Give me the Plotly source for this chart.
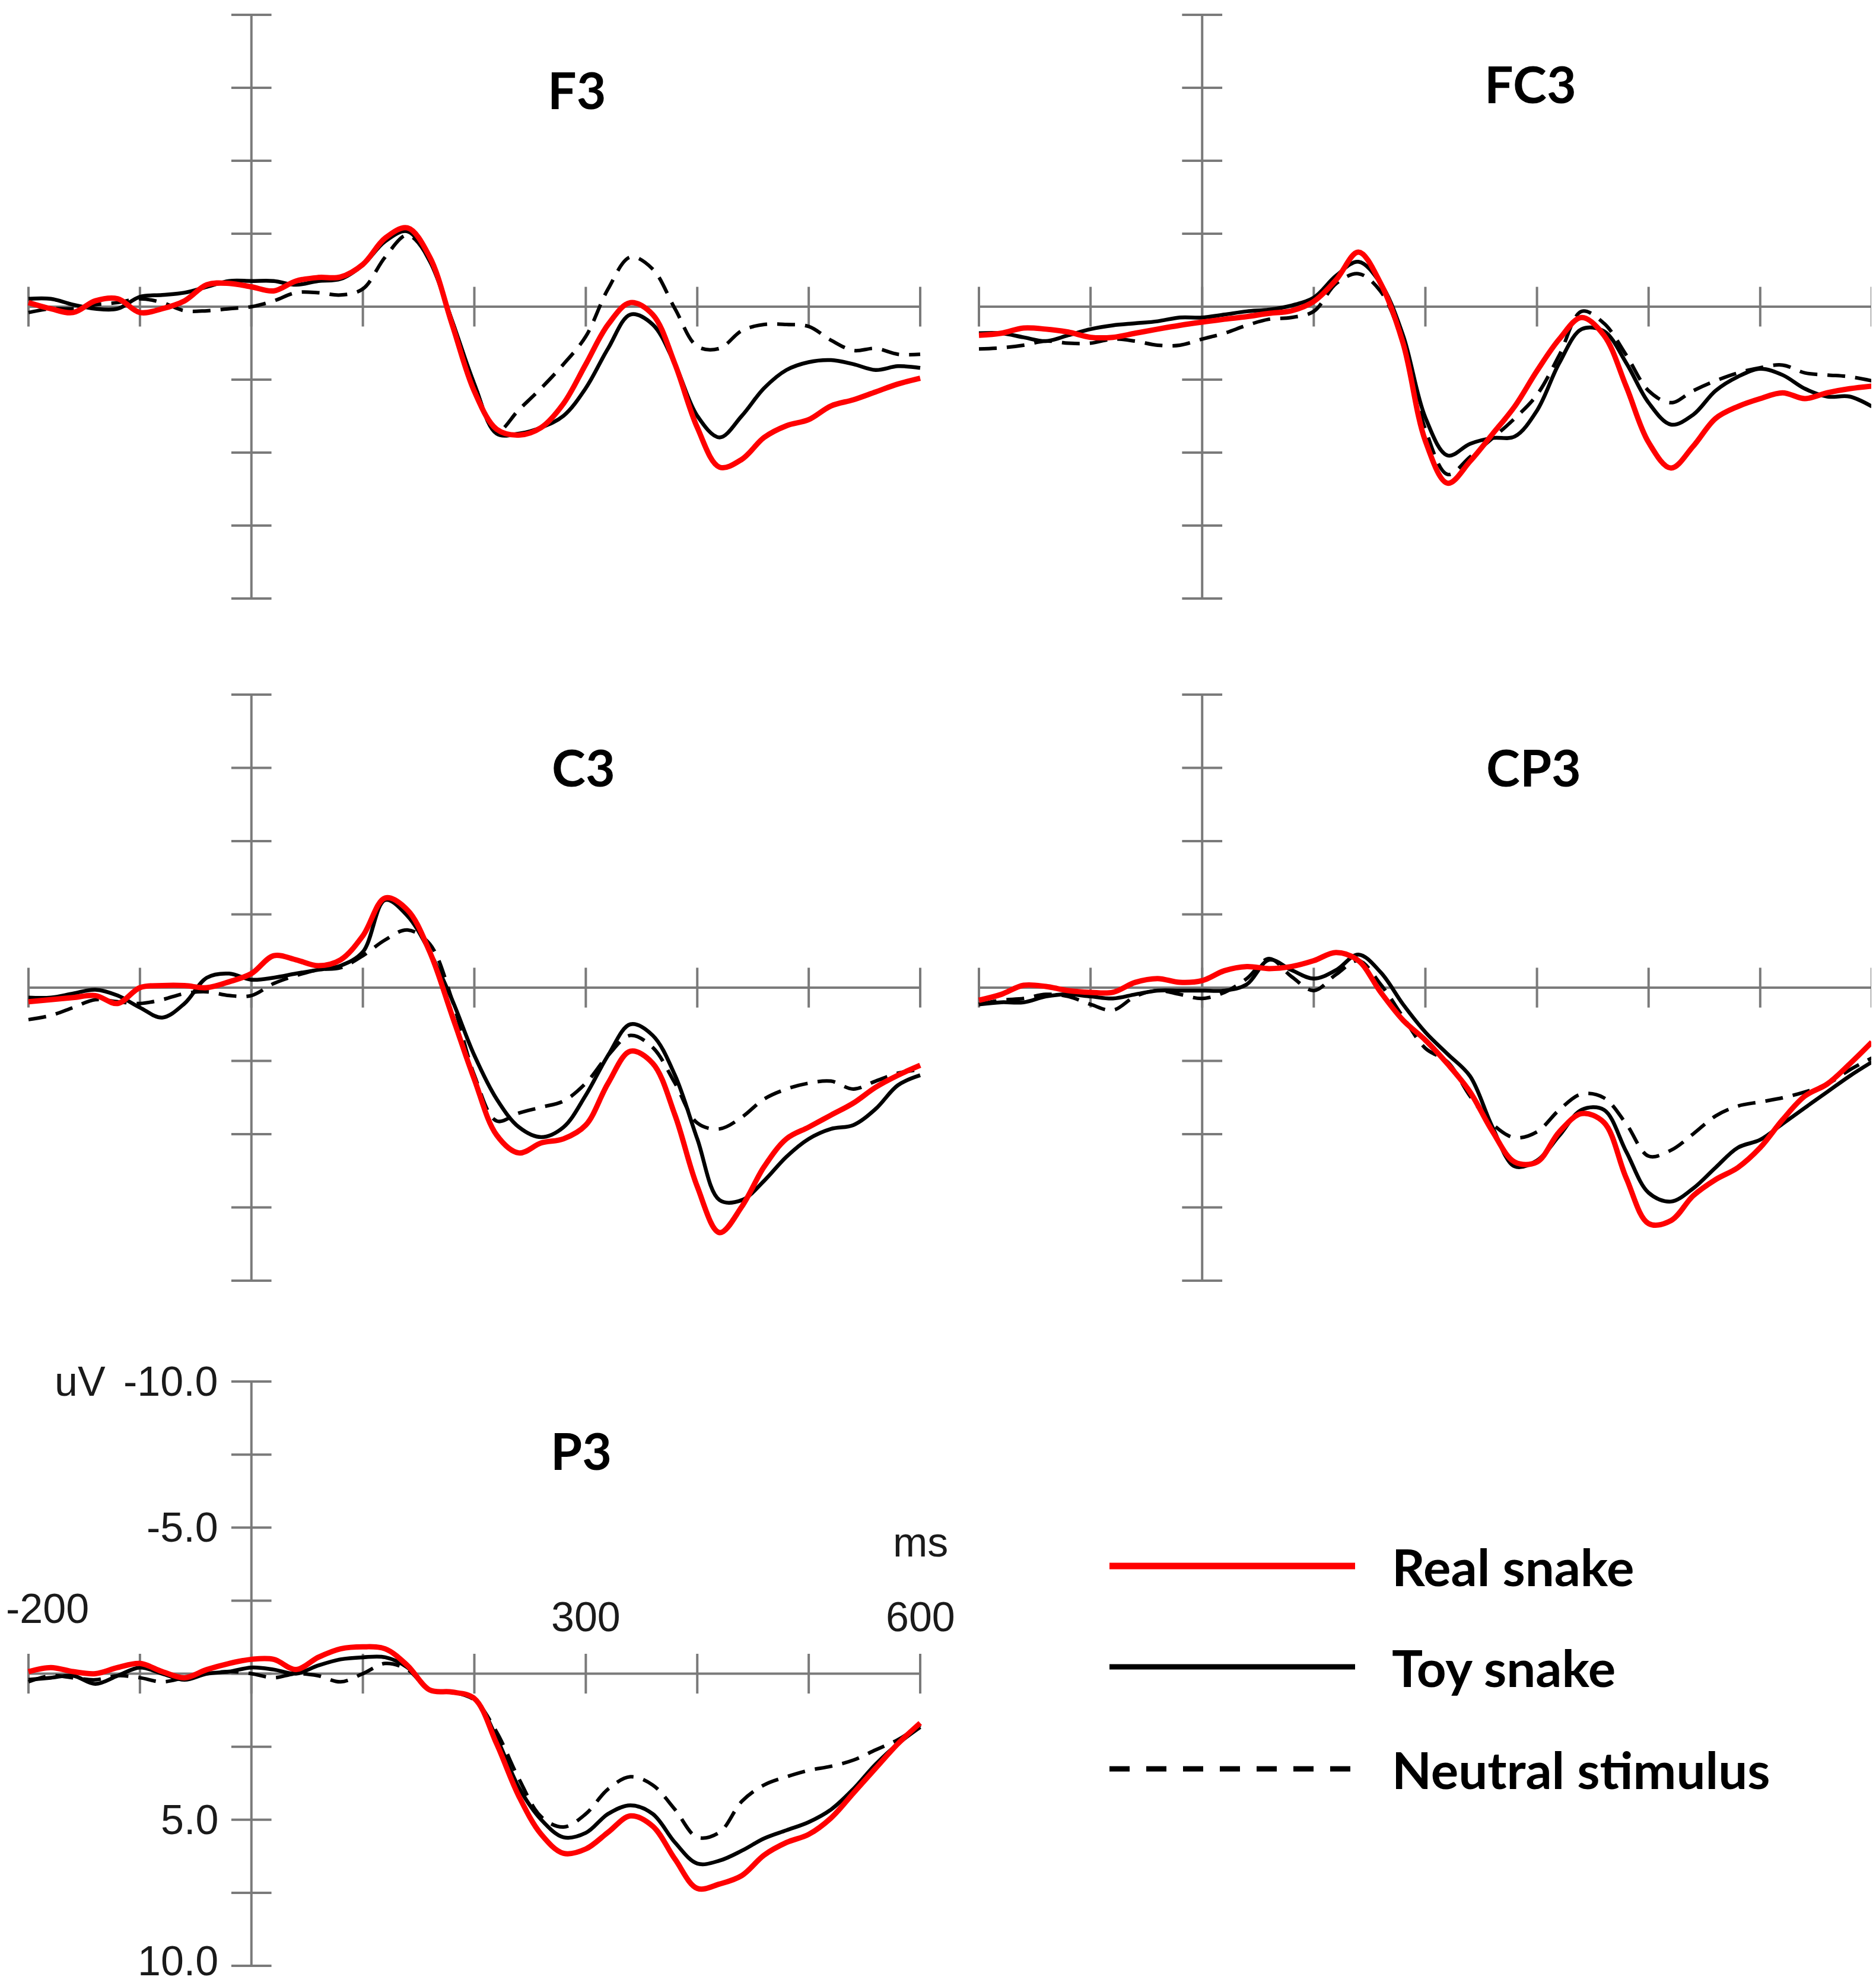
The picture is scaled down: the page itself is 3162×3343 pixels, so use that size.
import plotly.graph_objects as go

W, H = 3162, 3343

# ---------------- data (µV, negative plotted upward) ----------------
TIME_MS = [-200, -180, -160, -140, -120, -100, -80, -60, -40, -20, 0, 20, 40, 60, 80, 100,
           120, 140, 160, 180, 200, 220, 240, 260, 280, 300, 320, 340, 360, 380, 400, 420,
           440, 460, 480, 500, 520, 540, 560, 580, 600]

F3_REAL = [-0.14, 0.07, 0.2, -0.2, -0.27, 0.2, 0.07, -0.2, -0.75, -0.8, -0.68, -0.54, -0.88, -1.0,
           -1.02, -1.45, -2.35, -2.7, -1.7, 0.6, 2.9, 4.2, 4.4, 4.14, 3.32, 1.97, 0.61, -0.14, 0.27,
           1.97, 4.14, 5.5, 5.23, 4.48, 4.08, 3.87, 3.4, 3.19, 2.92, 2.65, 2.45]
F3_TOY = [-0.27, -0.27, -0.07, 0.07, 0.07, -0.34, -0.4, -0.48, -0.68, -0.88, -0.88, -0.88, -0.75,
          -0.88, -0.95, -1.43, -2.24, -2.58, -1.56, 0.48, 2.65, 4.35, 4.35, 4.14, 3.74, 2.79, 1.43,
          0.27, 0.61, 1.97, 3.74, 4.48, 3.74, 2.79, 2.17, 1.9, 1.83, 1.97, 2.17, 2.04, 2.1]
F3_NEUTRAL = [0.2, 0.07, 0.07, -0.07, -0.14, -0.27, -0.14, 0.14, 0.14, 0.07, 0.0, -0.2, -0.48, -0.48,
              -0.4, -0.61, -1.7, -2.45, -1.6, 0.48, 2.65, 4.28, 3.53, 2.79, 1.97, 1.02, -0.61, -1.7,
              -1.29, 0.07, 1.36, 1.43, 0.82, 0.61, 0.61, 0.68, 1.15, 1.5, 1.43, 1.63, 1.63]

FC3_REAL = [0.98, 0.91, 0.73, 0.77, 0.87, 1.05, 1.05, 0.91, 0.77, 0.64, 0.53, 0.43, 0.34, 0.23,
            0.14, -0.18, -0.92, -1.87, -0.79, 1.25, 4.6, 6.05, 5.3, 4.37, 3.42, 2.2, 1.11, 0.37,
            0.98, 2.74, 4.65, 5.53, 4.78, 3.83, 3.42, 3.15, 2.95, 3.15, 2.95, 2.81, 2.72]
FC3_TOY = [0.91, 0.91, 1.05, 1.18, 0.98, 0.77, 0.64, 0.57, 0.5, 0.37, 0.37, 0.27, 0.16, 0.1, -0.04,
           -0.31, -1.06, -1.54, -0.79, 0.98, 3.8, 5.1, 4.7, 4.5, 4.45, 3.56, 1.93, 0.77, 0.84,
           1.93, 3.29, 4.04, 3.7, 2.88, 2.4, 2.13, 2.34, 2.81, 3.08, 3.08, 3.42]
FC3_NEUTRAL = [1.45, 1.41, 1.32, 1.18, 1.25, 1.25, 1.11, 1.18, 1.32, 1.32, 1.11, 0.91, 0.64, 0.43,
               0.37, 0.16, -0.79, -1.13, -0.52, 1.25, 4.2, 5.75, 5.15, 4.51, 3.83, 3.02, 1.66,
               0.16, 0.57, 1.66, 2.88, 3.29, 2.88, 2.54, 2.27, 2.09, 2.0, 2.27, 2.34, 2.4, 2.54]

C3_REAL = [0.48, 0.41, 0.34, 0.27, 0.54, 0.0, -0.07, -0.07, 0.0, -0.2, -0.48, -1.09, -0.95, -0.75,
           -0.95, -1.77, -3.06, -2.65, -1.22, 0.95, 3.13, 5.03, 5.64, 5.3, 5.16, 4.69, 3.26, 2.17,
           2.58, 4.35, 6.79, 8.36, 7.47, 6.11, 5.16, 4.76, 4.35, 3.94, 3.4, 2.99, 2.65]
C3_TOY = [0.34, 0.34, 0.2, 0.07, 0.27, 0.68, 1.02, 0.54, -0.34, -0.48, -0.27, -0.34, -0.48, -0.61,
          -0.75, -1.22, -2.99, -2.45, -1.22, 0.41, 2.31, 3.8, 4.76, 5.1, 4.76, 3.67, 2.31, 1.25,
          1.63, 2.99, 5.16, 7.25, 7.25, 6.59, 5.77, 5.16, 4.82, 4.69, 4.14, 3.33, 2.99]
C3_NEUTRAL = [1.09, 0.95, 0.68, 0.41, 0.48, 0.54, 0.41, 0.2, 0.14, 0.27, 0.27, -0.14, -0.41, -0.61,
              -0.68, -1.09, -1.63, -1.97, -1.49, 0.41, 2.99, 4.55, 4.28, 4.08, 3.87, 3.26, 2.31,
              1.63, 2.04, 3.26, 4.62, 4.82, 4.42, 3.8, 3.46, 3.26, 3.19, 3.46, 3.19, 2.92, 2.79]

CP3_REAL = [0.43, 0.23, -0.08, -0.04, 0.1, 0.16, 0.16, -0.18, -0.31, -0.18, -0.24, -0.58, -0.72,
            -0.65, -0.72, -0.92, -1.2, -0.92, 0.16, 1.11, 1.79, 2.61, 3.56, 4.9, 5.95, 5.95, 4.92,
            4.3, 4.6, 6.5, 8.05, 7.95, 7.1, 6.55, 6.14, 5.46, 4.51, 3.7, 3.29, 2.61, 1.86]
CP3_TOY = [0.57, 0.5, 0.5, 0.3, 0.23, 0.3, 0.37, 0.23, 0.1, 0.1, 0.1, 0.1, -0.11, -0.95, -0.6,
           -0.31, -0.6, -1.13, -0.52, 0.57, 1.52, 2.27, 3.02, 4.75, 6.1, 5.9, 5.05, 4.17, 4.17,
           5.6, 7.0, 7.3, 6.85, 6.14, 5.46, 5.19, 4.65, 4.1, 3.56, 3.02, 2.54]
CP3_NEUTRAL = [0.57, 0.43, 0.37, 0.23, 0.3, 0.57, 0.77, 0.3, 0.1, 0.23, 0.37, 0.16, -0.31, -0.99,
               -0.38, 0.1, -0.45, -0.92, -0.11, 1.0, 2.07, 2.54, 3.7, 4.65, 5.12, 4.92, 4.17, 3.63,
               3.76, 4.65, 5.75, 5.55, 4.99, 4.38, 4.04, 3.9, 3.76, 3.56, 3.29, 2.81, 2.4]

P3_REAL = [-0.07, -0.21, -0.07, 0.0, -0.21, -0.35, -0.07, 0.14, -0.14, -0.35, -0.49, -0.49, -0.14,
           -0.56, -0.85, -0.92, -0.85, -0.28, 0.56, 0.63, 0.85, 2.4, 4.2, 5.5, 6.15, 6.0, 5.43,
           4.87, 5.22, 6.35, 7.35, 7.2, 6.91, 6.21, 5.78, 5.5, 4.94, 4.09, 3.24, 2.4, 1.69]
P3_TOY = [0.21, 0.14, 0.07, 0.35, 0.07, -0.21, 0.0, 0.21, 0.0, -0.07, -0.21, -0.14, 0.0, -0.28,
          -0.49, -0.56, -0.56, -0.21, 0.56, 0.63, 0.85, 2.2, 3.9, 5.0, 5.6, 5.45, 4.8, 4.51, 4.8,
          5.78, 6.5, 6.4, 6.06, 5.64, 5.36, 5.08, 4.65, 3.95, 3.1, 2.4, 1.83]
P3_NEUTRAL = [0.28, 0.07, 0.14, 0.21, 0.07, 0.14, 0.28, 0.14, 0.0, -0.07, 0.0, 0.14, 0.0, 0.07,
              0.28, 0.0, -0.35, -0.14, 0.56, 0.63, 0.9, 2.0, 3.6, 4.9, 5.25, 4.8, 3.95, 3.53, 3.81,
              4.65, 5.6, 5.43, 4.37, 3.81, 3.53, 3.31, 3.17, 2.96, 2.61, 2.26, 1.76]

SERIES_NAMES = ["Real snake", "Toy snake", "Neutral stimulus"]
SERIES_COLORS = ["#ff0000", "#000000", "#000000"]
SERIES_WIDTHS = [9, 6.5, 6]
SERIES_DASH = ["solid", "solid", "30px,17px"]

X_TICKS = [-200, -100, 0, 100, 200, 300, 400, 500, 600]
Y_TICKS = [-10, -7.5, -5, -2.5, 0, 2.5, 5, 7.5, 10]
Y_TICK_LABELS = {-10: "-10.0", -5: "-5.0", 5: "5.0", 10: "10.0"}
X_TICK_LABELS = {-200: "-200", 300: "300", 600: "600"}

PANELS = [
    dict(name="F3", data=(F3_REAL, F3_TOY, F3_NEUTRAL), col=0, row=0, title_at=(292, -7.45)),
    dict(name="FC3", data=(FC3_REAL, FC3_TOY, FC3_NEUTRAL), col=1, row=0, title_at=(294, -7.65)),
    dict(name="C3", data=(C3_REAL, C3_TOY, C3_NEUTRAL), col=0, row=1, title_at=(298, -7.55)),
    dict(name="CP3", data=(CP3_REAL, CP3_TOY, CP3_NEUTRAL), col=1, row=1, title_at=(297, -7.55)),
    dict(name="P3", data=(P3_REAL, P3_TOY, P3_NEUTRAL), col=0, row=2, title_at=(296, -7.65),
         labels=True),
]

# ---------------- layout geometry (pixels) ----------------
COL_PX = [(40, 1543), (1642, 3147)]      # pixel x of -200 ms and 600 ms
ROW_PX = [(17, 1001), (1163, 2151), (2321, 3306)]  # pixel y of -10 and +10 µV
X_RANGE = (-200, 600)
Y_RANGE = (-10, 10)
PAD_MS, PAD_UV = 8, 0.3
TICK_UV, TICK_MS = 0.68, 18
AXIS_COLOR = "#7a7a7a"
LABEL_FONT = dict(family="Liberation Sans, Arial, sans-serif", size=70, color="#1a1a1a")
TITLE_FONT = dict(family="Lato, Open Sans, sans-serif", size=86, color="#000000", weight="bold")
LEGEND_FONT = dict(family="Lato, Open Sans, sans-serif", size=87, color="#000000", weight="bold")

LEGEND_LINE_PX = (1862, 2276)
LEGEND_ROWS_PX = [2632, 2802, 2974]
LEGEND_TEXT_PX = 2336
LEGEND_WIDTHS = [11, 9, 9]
LEGEND_DASH = ["solid", "solid", "34px,28px"]


def x_domain(col):
    a, b = COL_PX[col]
    ppm = (b - a) / (X_RANGE[1] - X_RANGE[0])
    return [(a - PAD_MS * ppm) / W, min(1.0, (b + PAD_MS * ppm) / W)]


def y_domain(row):
    a, b = ROW_PX[row]
    ppu = (b - a) / (Y_RANGE[1] - Y_RANGE[0])
    top, bot = a - PAD_UV * ppu, b + PAD_UV * ppu
    return [1 - bot / H, 1 - top / H]


fig = go.Figure()
shapes, annotations = [], []
layout_axes = {}

for i, p in enumerate(PANELS, start=1):
    sfx = "" if i == 1 else str(i)
    xref, yref = "x" + sfx, "y" + sfx
    layout_axes["xaxis" + sfx] = dict(domain=x_domain(p["col"]),
                                      range=[X_RANGE[0] - PAD_MS, X_RANGE[1] + PAD_MS],
                                      visible=False, anchor=yref, fixedrange=True)
    layout_axes["yaxis" + sfx] = dict(domain=y_domain(p["row"]),
                                      range=[Y_RANGE[1] + PAD_UV, Y_RANGE[0] - PAD_UV],
                                      visible=False, anchor=xref, fixedrange=True)

    line = dict(color=AXIS_COLOR, width=4)
    shapes.append(dict(type="line", xref=xref, yref=yref, x0=X_RANGE[0], x1=X_RANGE[1],
                       y0=0, y1=0, line=line, layer="below"))
    shapes.append(dict(type="line", xref=xref, yref=yref, x0=0, x1=0,
                       y0=Y_RANGE[0], y1=Y_RANGE[1], line=line, layer="below"))
    for t in X_TICKS:
        shapes.append(dict(type="line", xref=xref, yref=yref, x0=t, x1=t,
                           y0=-TICK_UV, y1=TICK_UV, line=line, layer="below"))
    for v in Y_TICKS:
        shapes.append(dict(type="line", xref=xref, yref=yref, x0=-TICK_MS, x1=TICK_MS,
                           y0=v, y1=v, line=line, layer="below"))

    for k in (2, 1, 0):
        fig.add_trace(go.Scatter(
            x=TIME_MS, y=p["data"][k], mode="lines", name=SERIES_NAMES[k],
            xaxis=xref, yaxis=yref, showlegend=False, hoverinfo="skip",
            line=dict(color=SERIES_COLORS[k], width=SERIES_WIDTHS[k], dash=SERIES_DASH[k],
                      shape="spline", smoothing=1.0)))

    tx, ty = p["title_at"]
    annotations.append(dict(text=p["name"], x=tx, y=ty, xref=xref, yref=yref,
                            showarrow=False, font=TITLE_FONT, xanchor="center", yanchor="middle"))

    if p.get("labels"):
        for v, lab in Y_TICK_LABELS.items():
            annotations.append(dict(text=lab, x=0, y=v, xref=xref, yref=yref, showarrow=False,
                                    font=LABEL_FONT, xanchor="right", yanchor="middle",
                                    xshift=-54, yshift=(8 if v == Y_RANGE[1] else 0)))
        annotations.append(dict(text="uV", x=0, y=Y_RANGE[0], xref=xref, yref=yref,
                                showarrow=False, font=LABEL_FONT, xanchor="right",
                                yanchor="middle", xshift=-244, yshift=0))
        for t, lab in X_TICK_LABELS.items():
            if t == X_RANGE[0]:
                annotations.append(dict(text=lab, x=t, y=0, xref=xref, yref=yref,
                                        showarrow=False, font=LABEL_FONT, xanchor="left",
                                        yanchor="middle", xshift=-40, yshift=110))
            else:
                annotations.append(dict(text=lab, x=t, y=0, xref=xref, yref=yref,
                                        showarrow=False, font=LABEL_FONT, xanchor="center",
                                        yanchor="middle", yshift=96))
        annotations.append(dict(text="ms", x=X_RANGE[1], y=0, xref=xref, yref=yref,
                                showarrow=False, font=LABEL_FONT, xanchor="center",
                                yanchor="middle", yshift=222))

# ---------------- legend (drawn as sample lines + labels) ----------------
for k, name in enumerate(SERIES_NAMES):
    yp = 1 - LEGEND_ROWS_PX[k] / H
    shapes.append(dict(type="line", xref="paper", yref="paper",
                       x0=LEGEND_LINE_PX[0] / W, x1=LEGEND_LINE_PX[1] / W, y0=yp, y1=yp,
                       line=dict(color=SERIES_COLORS[k], width=LEGEND_WIDTHS[k],
                                 dash=LEGEND_DASH[k])))
    annotations.append(dict(text=name, x=LEGEND_TEXT_PX / W, y=yp, xref="paper", yref="paper",
                            showarrow=False, font=LEGEND_FONT, xanchor="left", yanchor="middle"))

fig.update_layout(
    width=W, height=H, margin=dict(l=0, r=0, t=0, b=0),
    paper_bgcolor="white", plot_bgcolor="rgba(0,0,0,0)",
    showlegend=False, shapes=shapes, annotations=annotations, **layout_axes)

fig.write_html("out.html")
